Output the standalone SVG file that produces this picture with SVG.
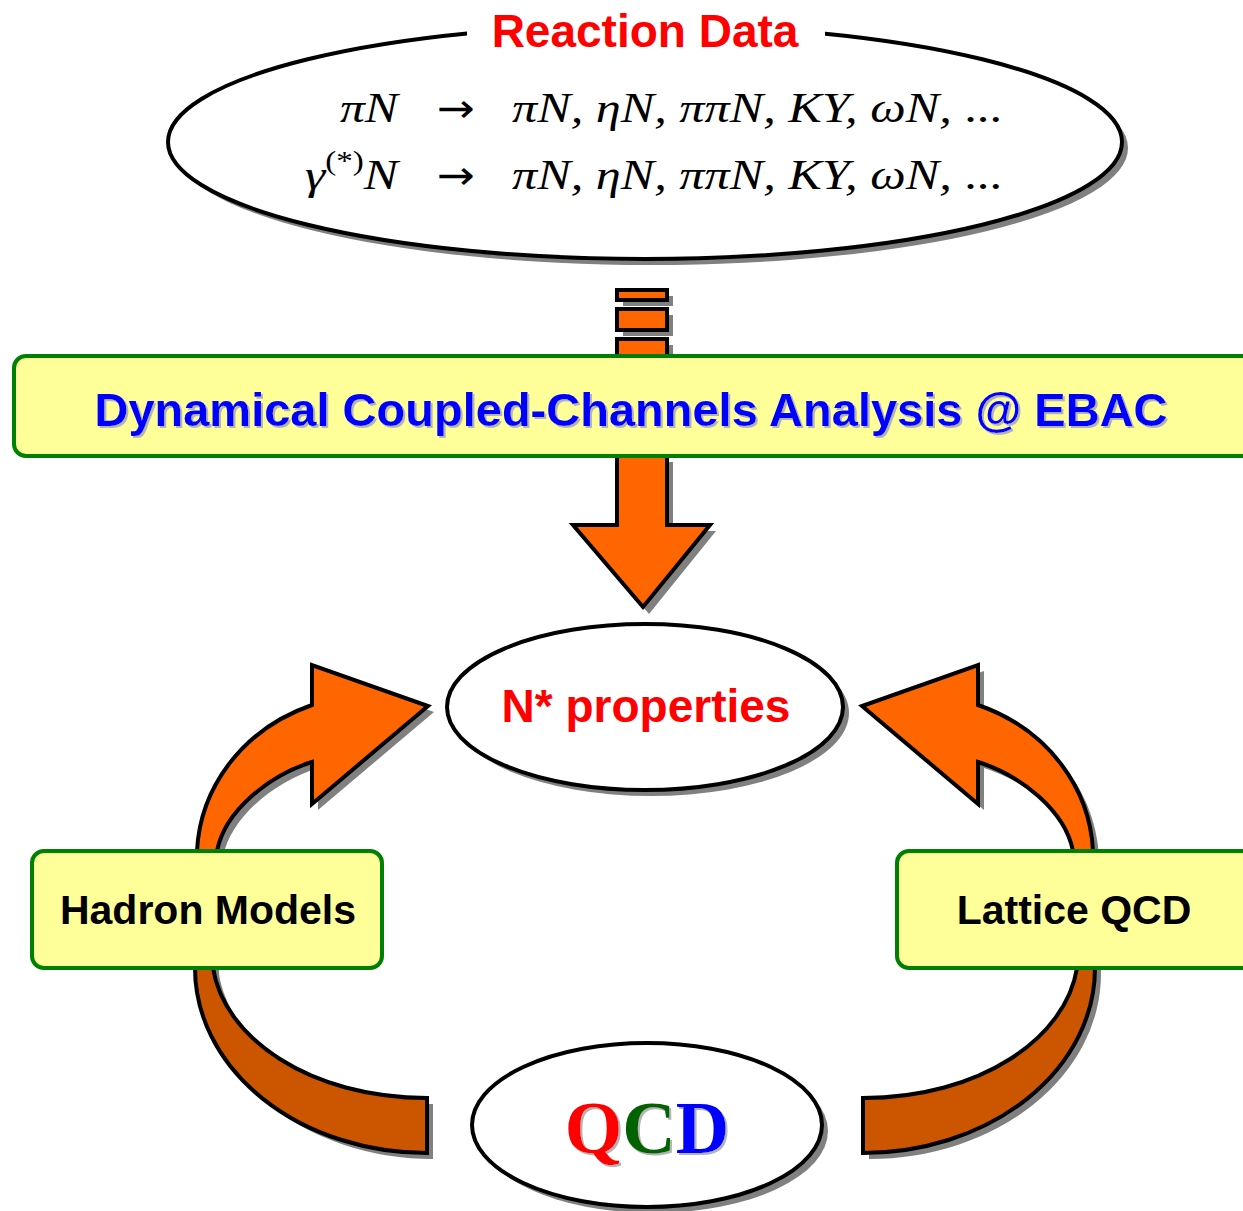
<svg xmlns="http://www.w3.org/2000/svg" width="1243" height="1211" viewBox="0 0 1243 1211">
  <style>
    .ell { fill: #ffffff; stroke: #000000; stroke-width: 4; }
    .shadow { fill: #808080; stroke: none; }
    .orange { fill: #ff6600; stroke: #000000; stroke-width: 4; stroke-linejoin: miter; }
    .brown { fill: #cc5500; stroke: #000000; stroke-width: 4; }
    .box { fill: #ffff99; stroke: #008000; stroke-width: 4; }
    .sans { font-family: "Liberation Sans", Arial, sans-serif; font-weight: bold; }
    .math { font-family: "Liberation Serif", "Times New Roman", serif; font-style: italic; font-size: 42px; fill: #000000; }
    .arrow { font-family: "DejaVu Sans", sans-serif; font-size: 40px; fill: #000000; }
    .up { font-style: normal; }
  </style>
  <defs>
    <filter id="tshadow" x="-5%" y="-20%" width="110%" height="150%">
      <feOffset in="SourceAlpha" dx="2" dy="2" result="off"/>
      <feFlood flood-color="#b4b4b4"/>
      <feComposite in2="off" operator="in" result="sh"/>
      <feMerge><feMergeNode in="sh"/><feMergeNode in="SourceGraphic"/></feMerge>
    </filter>
  </defs>

  <!-- connectors: arrows and bands linking the nodes -->
  <g id="connectors">
    <!-- broken stub above the analysis box -->
    <g id="stub">
      <rect class="shadow" x="623" y="296" width="50" height="10"/>
      <rect class="shadow" x="623" y="315" width="50" height="21"/>
      <rect class="shadow" x="623" y="345" width="50" height="20"/>
      <rect class="orange" x="617" y="290" width="50" height="10"/>
      <rect class="orange" x="617" y="309" width="50" height="21"/>
      <rect class="orange" x="617" y="339" width="50" height="20"/>
    </g>
    <!-- down arrow into N* properties -->
    <g id="down-arrow">
      <path class="shadow" d="M623,462 L673,462 L673,531 L716,531 L649,614 L579,531 L623,531 Z"/>
      <path class="orange" d="M617,440 L667,440 L667,525 L710,525 L643,607 L573,525 L617,525 Z"/>
    </g>
    <!-- curved arrow from hadron models -->
    <g id="arrow-left">
      <path class="shadow" transform="translate(6,6)" d="M197,880 L197,851 C200,790 240,730 312,705 L312,665 L428,706 L312,804 L312,762 C270,775 225,810 217,851 L217,880 Z"/>
      <path class="orange" d="M197,880 L197,851 C200,790 240,730 312,705 L312,665 L428,706 L312,804 L312,762 C270,775 225,810 217,851 L217,880 Z"/>
    </g>
    <!-- curved arrow from lattice QCD -->
    <g id="arrow-right">
      <path class="shadow" transform="translate(6,6)" d="M1093,880 L1093,851 C1090,790 1050,730 978,705 L978,665 L862,706 L978,804 L978,762 C1020,775 1065,810 1073,851 L1073,880 Z"/>
      <path class="orange" d="M1093,880 L1093,851 C1090,790 1050,730 978,705 L978,665 L862,706 L978,804 L978,762 C1020,775 1065,810 1073,851 L1073,880 Z"/>
    </g>
    <!-- bands from QCD up to the models -->
    <g id="band-left">
      <path class="shadow" transform="translate(6,6)" d="M195,940 L195,968 A232 185 0 0 0 427 1153 L427,1098 C310,1098 224,1038 213,968 L213,940 Z"/>
      <path class="brown" d="M195,940 L195,968 A232 185 0 0 0 427 1153 L427,1098 C310,1098 224,1038 213,968 L213,940 Z"/>
    </g>
    <g id="band-right">
      <path class="shadow" transform="translate(6,6)" d="M1095,940 L1095,968 A232 185 0 0 1 863 1153 L863,1098 C980,1098 1066,1038 1077,968 L1077,940 Z"/>
      <path class="brown" d="M1095,940 L1095,968 A232 185 0 0 1 863 1153 L863,1098 C980,1098 1066,1038 1077,968 L1077,940 Z"/>
    </g>
  </g>

  <!-- reaction data ellipse -->
  <g id="reaction-data">
    <ellipse class="shadow" cx="651" cy="148" rx="477" ry="117"/>
    <ellipse class="ell" cx="645" cy="142" rx="477" ry="117"/>
    <rect x="467" y="14" width="358" height="36" fill="#ffffff"/>
    <text class="sans" x="645" y="47" font-size="46" fill="#ff0000" text-anchor="middle">Reaction Data</text>
    <text class="math" x="340" y="122" textLength="58" lengthAdjust="spacingAndGlyphs">πN</text>
    <text class="arrow" x="437" y="122" textLength="38" lengthAdjust="spacingAndGlyphs">→</text>
    <text class="math" x="512" y="122" textLength="490" lengthAdjust="spacingAndGlyphs">πN, ηN, ππN, KY, ωN, <tspan class="up">...</tspan></text>
    <text class="math" x="305" y="189" textLength="93" lengthAdjust="spacingAndGlyphs">γ<tspan class="up" font-size="27" dy="-19">(*)</tspan><tspan dy="19">N</tspan></text>
    <text class="arrow" x="437" y="189" textLength="38" lengthAdjust="spacingAndGlyphs">→</text>
    <text class="math" x="512" y="189" textLength="490" lengthAdjust="spacingAndGlyphs">πN, ηN, ππN, KY, ωN, <tspan class="up">...</tspan></text>
  </g>

  <!-- analysis box -->
  <g id="analysis">
    <rect class="box" x="14" y="356" width="1250" height="100" rx="12" ry="12"/>
    <text class="sans" x="631" y="426" font-size="47" fill="#0000ff" text-anchor="middle" filter="url(#tshadow)">Dynamical Coupled-Channels Analysis @ EBAC</text>
  </g>

  <!-- N* properties ellipse -->
  <g id="nstar">
    <ellipse class="shadow" cx="651" cy="713" rx="198" ry="83"/>
    <ellipse class="ell" cx="645" cy="707" rx="198" ry="83"/>
    <text class="sans" x="646" y="722" font-size="46" fill="#ff0000" text-anchor="middle">N* properties</text>
  </g>

  <!-- hadron models box -->
  <g id="hadron-models">
    <rect class="box" x="32" y="851" width="350" height="117" rx="12" ry="12"/>
    <text class="sans" x="208" y="924" font-size="41" fill="#000000" text-anchor="middle">Hadron Models</text>
  </g>

  <!-- lattice QCD box -->
  <g id="lattice-qcd">
    <rect class="box" x="897" y="851" width="360" height="117" rx="12" ry="12"/>
    <text class="sans" x="1074" y="924" font-size="41" fill="#000000" text-anchor="middle">Lattice QCD</text>
  </g>

  <!-- QCD ellipse -->
  <g id="qcd">
    <ellipse class="shadow" cx="653" cy="1131" rx="175" ry="82"/>
    <ellipse class="ell" cx="647" cy="1125" rx="175" ry="82"/>
    <text x="647" y="1153" font-family="'Liberation Serif', 'Times New Roman', serif" font-weight="bold" font-size="74" text-anchor="middle" filter="url(#tshadow)"><tspan fill="#ff0000">Q</tspan><tspan fill="#006400">C</tspan><tspan fill="#0000ff">D</tspan></text>
  </g>
</svg>
